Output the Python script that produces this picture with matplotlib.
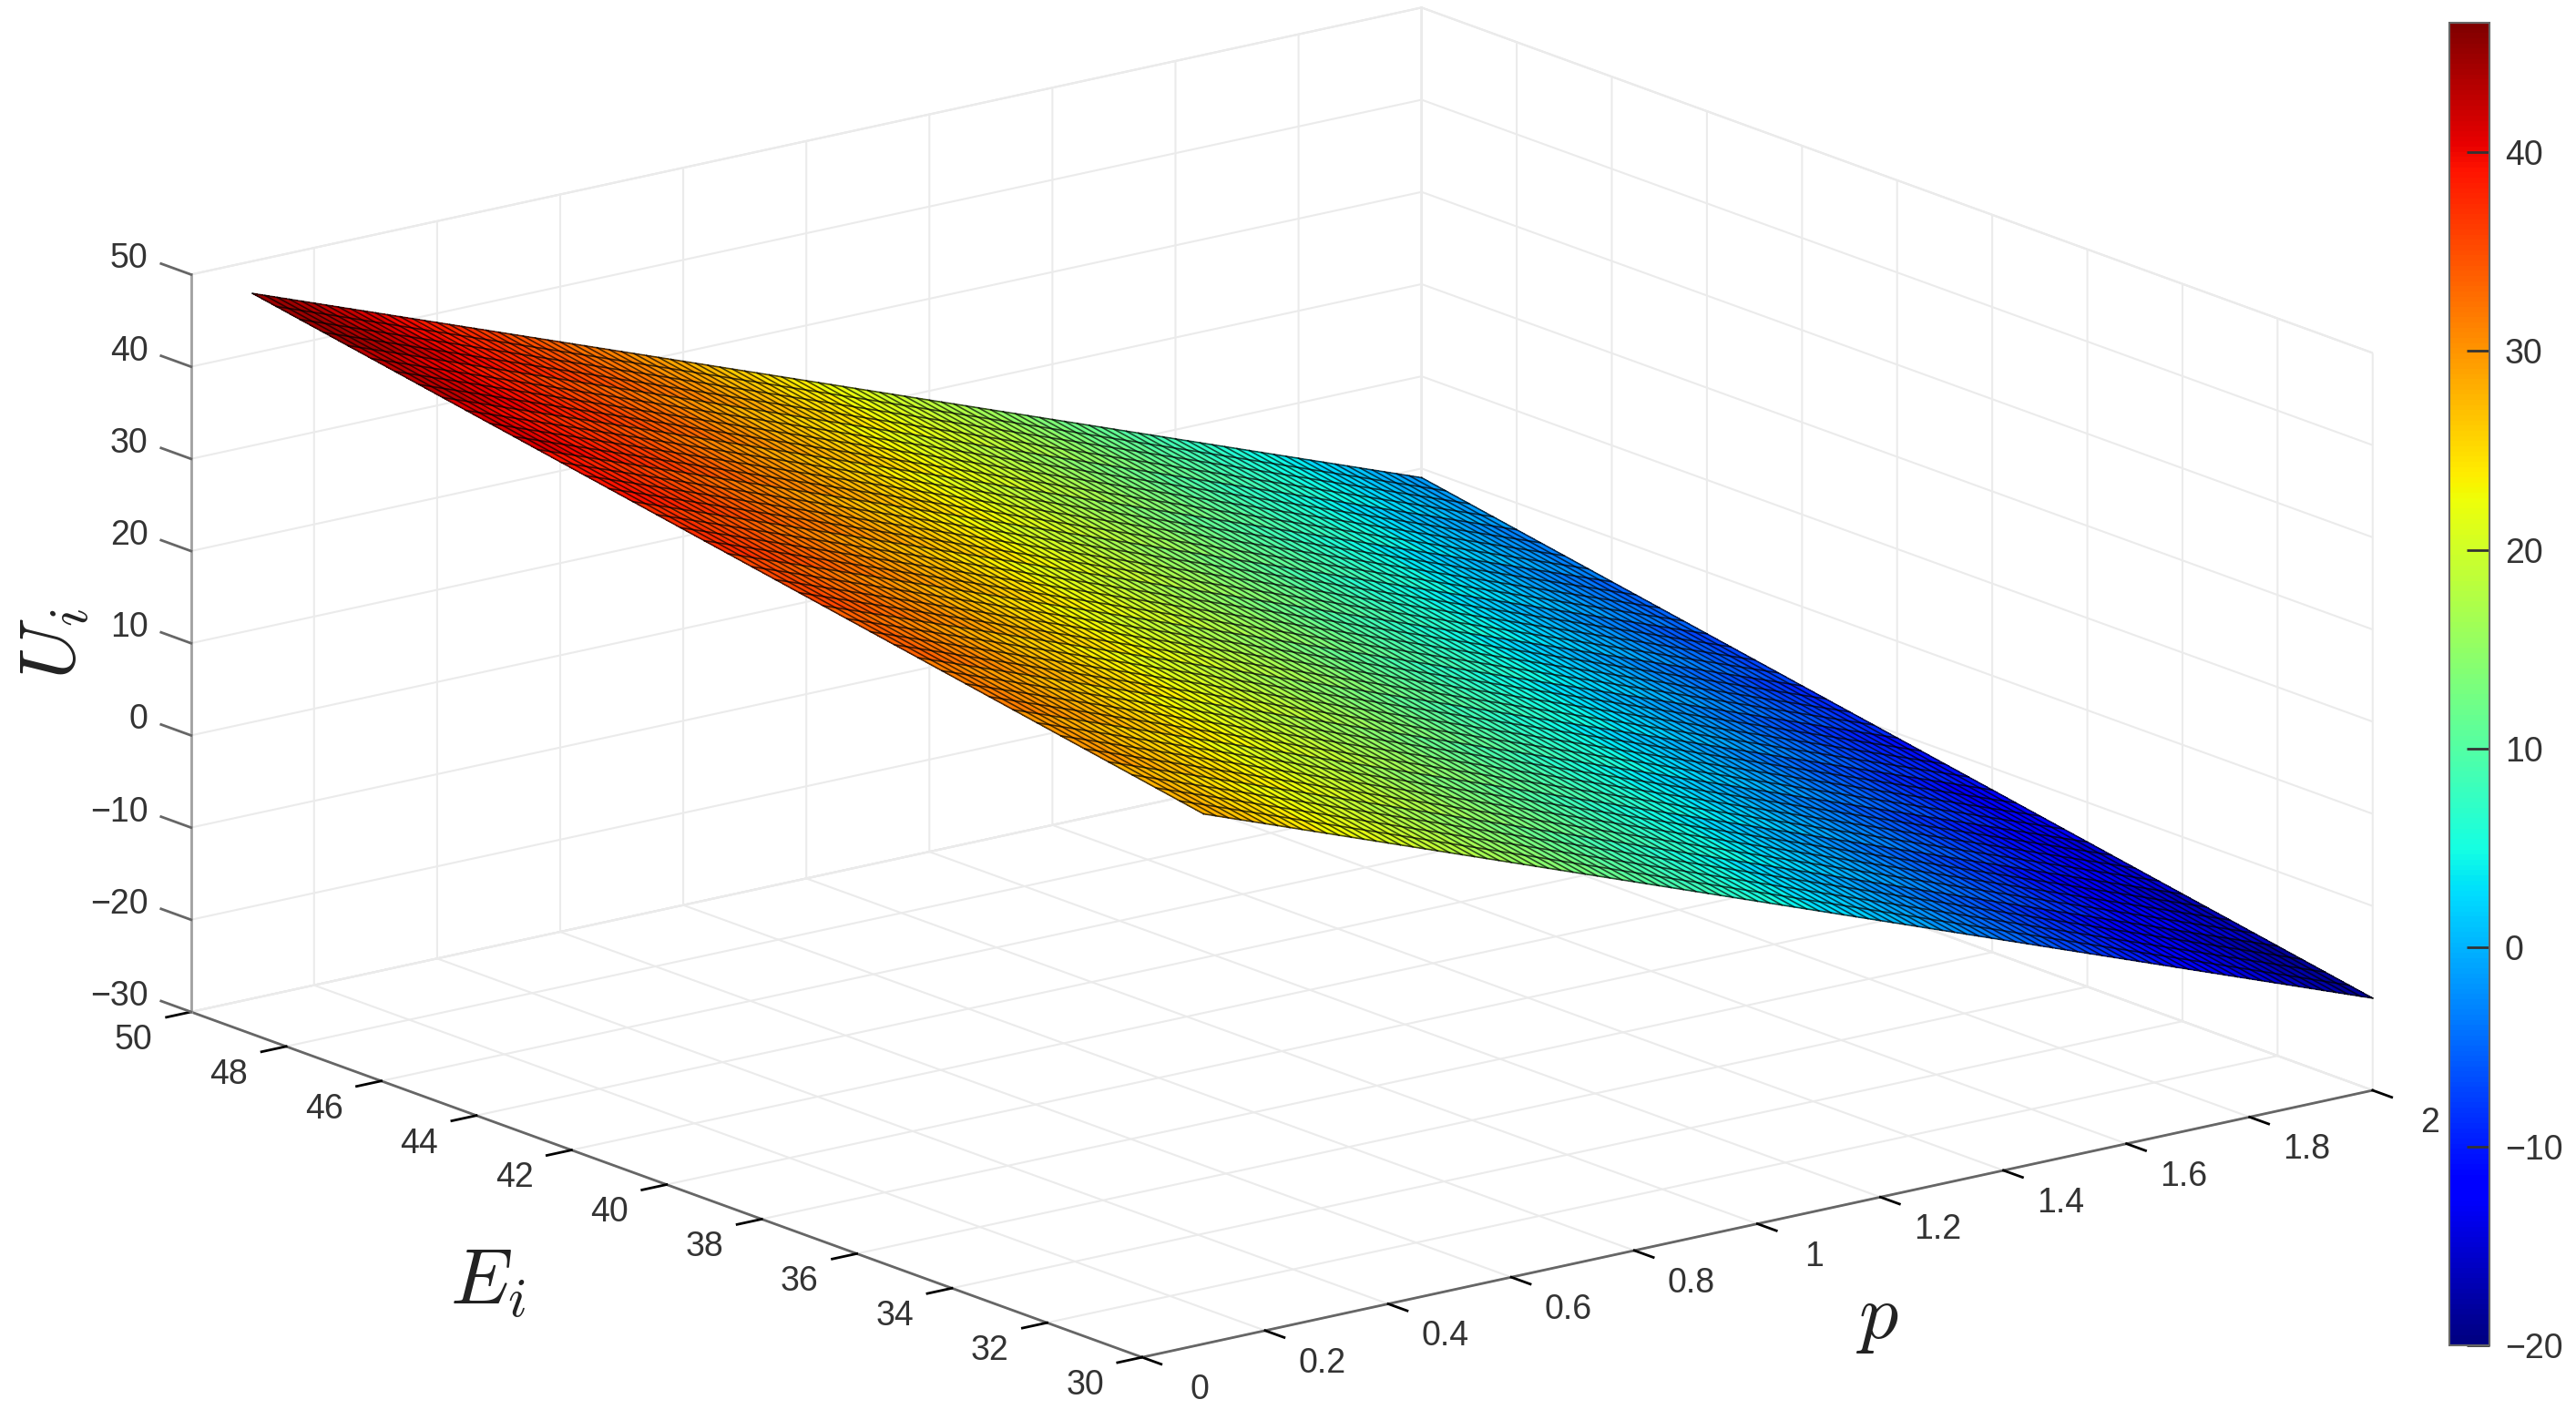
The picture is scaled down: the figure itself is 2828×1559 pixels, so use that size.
import numpy as np
from matplotlib import pyplot as plt
from matplotlib.cm import ScalarMappable
from matplotlib.colors import Normalize
from mpl_toolkits.mplot3d import proj3d

# values (corners and edges of the surface)
# coarse table for the face colours: rows are p_grid, columns are e_grid
p_grid = [0.10, 0.15, 0.20, 0.25, 0.30, 0.35, 0.40, 0.45, 0.50, 0.55, 0.60, 0.65, 0.70,
          0.75, 0.80, 0.85, 0.90, 0.95, 1.00, 1.05, 1.10, 1.15, 1.20, 1.25, 1.30, 1.35,
          1.40, 1.45, 1.50, 1.55, 1.60, 1.65, 1.70, 1.75, 1.80, 1.85, 1.90, 1.95, 2.00]
e_grid = [30, 32, 34, 36, 38, 40, 42, 44, 46, 48, 50]
u_table = [
    [27.5, 29.4, 31.3, 33.2, 35.1, 37.0, 38.9, 40.8, 42.7, 44.6, 46.5],
    [26.25, 28.15, 30.05, 31.95, 33.85, 35.75, 37.65, 39.55, 41.45, 43.35, 45.25],
    [25.0, 26.9, 28.8, 30.7, 32.6, 34.5, 36.4, 38.3, 40.2, 42.1, 44.0],
    [23.75, 25.65, 27.55, 29.45, 31.35, 33.25, 35.15, 37.05, 38.95, 40.85, 42.75],
    [22.5, 24.4, 26.3, 28.2, 30.1, 32.0, 33.9, 35.8, 37.7, 39.6, 41.5],
    [21.25, 23.15, 25.05, 26.95, 28.85, 30.75, 32.65, 34.55, 36.45, 38.35, 40.25],
    [20.0, 21.9, 23.8, 25.7, 27.6, 29.5, 31.4, 33.3, 35.2, 37.1, 39.0],
    [18.75, 20.65, 22.55, 24.45, 26.35, 28.25, 30.15, 32.05, 33.95, 35.85, 37.75],
    [17.5, 19.4, 21.3, 23.2, 25.1, 27.0, 28.9, 30.8, 32.7, 34.6, 36.5],
    [16.25, 18.15, 20.05, 21.95, 23.85, 25.75, 27.65, 29.55, 31.45, 33.35, 35.25],
    [15.0, 16.9, 18.8, 20.7, 22.6, 24.5, 26.4, 28.3, 30.2, 32.1, 34.0],
    [13.75, 15.65, 17.55, 19.45, 21.35, 23.25, 25.15, 27.05, 28.95, 30.85, 32.75],
    [12.5, 14.4, 16.3, 18.2, 20.1, 22.0, 23.9, 25.8, 27.7, 29.6, 31.5],
    [11.25, 13.15, 15.05, 16.95, 18.85, 20.75, 22.65, 24.55, 26.45, 28.35, 30.25],
    [10.0, 11.9, 13.8, 15.7, 17.6, 19.5, 21.4, 23.3, 25.2, 27.1, 29.0],
    [8.75, 10.65, 12.55, 14.45, 16.35, 18.25, 20.15, 22.05, 23.95, 25.85, 27.75],
    [7.5, 9.4, 11.3, 13.2, 15.1, 17.0, 18.9, 20.8, 22.7, 24.6, 26.5],
    [6.25, 8.15, 10.05, 11.95, 13.85, 15.75, 17.65, 19.55, 21.45, 23.35, 25.25],
    [5.0, 6.9, 8.8, 10.7, 12.6, 14.5, 16.4, 18.3, 20.2, 22.1, 24.0],
    [3.75, 5.65, 7.55, 9.45, 11.35, 13.25, 15.15, 17.05, 18.95, 20.85, 22.75],
    [2.5, 4.4, 6.3, 8.2, 10.1, 12.0, 13.9, 15.8, 17.7, 19.6, 21.5],
    [1.25, 3.15, 5.05, 6.95, 8.85, 10.75, 12.65, 14.55, 16.45, 18.35, 20.25],
    [0.0, 1.9, 3.8, 5.7, 7.6, 9.5, 11.4, 13.3, 15.2, 17.1, 19.0],
    [-1.25, 0.65, 2.55, 4.45, 6.35, 8.25, 10.15, 12.05, 13.95, 15.85, 17.75],
    [-2.5, -0.6, 1.3, 3.2, 5.1, 7.0, 8.9, 10.8, 12.7, 14.6, 16.5],
    [-3.75, -1.85, 0.05, 1.95, 3.85, 5.75, 7.65, 9.55, 11.45, 13.35, 15.25],
    [-5.0, -3.1, -1.2, 0.7, 2.6, 4.5, 6.4, 8.3, 10.2, 12.1, 14.0],
    [-6.25, -4.35, -2.45, -0.55, 1.35, 3.25, 5.15, 7.05, 8.95, 10.85, 12.75],
    [-7.5, -5.6, -3.7, -1.8, 0.1, 2.0, 3.9, 5.8, 7.7, 9.6, 11.5],
    [-8.75, -6.85, -4.95, -3.05, -1.15, 0.75, 2.65, 4.55, 6.45, 8.35, 10.25],
    [-10.0, -8.1, -6.2, -4.3, -2.4, -0.5, 1.4, 3.3, 5.2, 7.1, 9.0],
    [-11.25, -9.35, -7.45, -5.55, -3.65, -1.75, 0.15, 2.05, 3.95, 5.85, 7.75],
    [-12.5, -10.6, -8.7, -6.8, -4.9, -3.0, -1.1, 0.8, 2.7, 4.6, 6.5],
    [-13.75, -11.85, -9.95, -8.05, -6.15, -4.25, -2.35, -0.45, 1.45, 3.35, 5.25],
    [-15.0, -13.1, -11.2, -9.3, -7.4, -5.5, -3.6, -1.7, 0.2, 2.1, 4.0],
    [-16.25, -14.35, -12.45, -10.55, -8.65, -6.75, -4.85, -2.95, -1.05, 0.85, 2.75],
    [-17.5, -15.6, -13.7, -11.8, -9.9, -8.0, -6.1, -4.2, -2.3, -0.4, 1.5],
    [-18.75, -16.85, -14.95, -13.05, -11.15, -9.25, -7.35, -5.45, -3.55, -1.65, 0.25],
    [-20.0, -18.1, -16.2, -14.3, -12.4, -10.5, -8.6, -6.7, -4.8, -2.9, -1.0],
]

# mesh lines, each one runs straight between two read end values
p_mesh = [0.10, 0.12, 0.14, 0.16, 0.18, 0.20, 0.22, 0.24, 0.26, 0.28, 0.30, 0.32, 0.34, 0.36, 0.38, 0.40,
          0.42, 0.44, 0.46, 0.48, 0.50, 0.52, 0.54, 0.56, 0.58, 0.60, 0.62, 0.64, 0.66, 0.68, 0.70, 0.72,
          0.74, 0.76, 0.78, 0.80, 0.82, 0.84, 0.86, 0.88, 0.90, 0.92, 0.94, 0.96, 0.98, 1.00, 1.02, 1.04,
          1.06, 1.08, 1.10, 1.12, 1.14, 1.16, 1.18, 1.20, 1.22, 1.24, 1.26, 1.28, 1.30, 1.32, 1.34, 1.36,
          1.38, 1.40, 1.42, 1.44, 1.46, 1.48, 1.50, 1.52, 1.54, 1.56, 1.58, 1.60, 1.62, 1.64, 1.66, 1.68,
          1.70, 1.72, 1.74, 1.76, 1.78, 1.80, 1.82, 1.84, 1.86, 1.88, 1.90, 1.92, 1.94, 1.96, 1.98, 2.00]
u_at_e30 = [27.5, 27, 26.5, 26, 25.5, 25, 24.5, 24, 23.5, 23, 22.5, 22, 21.5, 21, 20.5, 20,
            19.5, 19, 18.5, 18, 17.5, 17, 16.5, 16, 15.5, 15, 14.5, 14, 13.5, 13, 12.5, 12,
            11.5, 11, 10.5, 10, 9.5, 9, 8.5, 8, 7.5, 7, 6.5, 6, 5.5, 5, 4.5, 4,
            3.5, 3, 2.5, 2, 1.5, 1, 0.5, 0, -0.5, -1, -1.5, -2, -2.5, -3, -3.5, -4,
            -4.5, -5, -5.5, -6, -6.5, -7, -7.5, -8, -8.5, -9, -9.5, -10, -10.5, -11, -11.5, -12,
            -12.5, -13, -13.5, -14, -14.5, -15, -15.5, -16, -16.5, -17, -17.5, -18, -18.5, -19, -19.5, -20]
u_at_e50 = [46.5, 46, 45.5, 45, 44.5, 44, 43.5, 43, 42.5, 42, 41.5, 41, 40.5, 40, 39.5, 39,
            38.5, 38, 37.5, 37, 36.5, 36, 35.5, 35, 34.5, 34, 33.5, 33, 32.5, 32, 31.5, 31,
            30.5, 30, 29.5, 29, 28.5, 28, 27.5, 27, 26.5, 26, 25.5, 25, 24.5, 24, 23.5, 23,
            22.5, 22, 21.5, 21, 20.5, 20, 19.5, 19, 18.5, 18, 17.5, 17, 16.5, 16, 15.5, 15,
            14.5, 14, 13.5, 13, 12.5, 12, 11.5, 11, 10.5, 10, 9.5, 9, 8.5, 8, 7.5, 7,
            6.5, 6, 5.5, 5, 4.5, 4, 3.5, 3, 2.5, 2, 1.5, 1, 0.5, 0, -0.5, -1]
e_mesh = [30, 30.5, 31, 31.5, 32, 32.5, 33, 33.5, 34, 34.5, 35, 35.5, 36, 36.5, 37, 37.5, 38, 38.5, 39, 39.5,
          40, 40.5, 41, 41.5, 42, 42.5, 43, 43.5, 44, 44.5, 45, 45.5, 46, 46.5, 47, 47.5, 48, 48.5, 49, 49.5, 50]
u_at_p_low = [27.5, 27.975, 28.45, 28.925, 29.4, 29.875, 30.35, 30.825, 31.3, 31.775, 32.25, 32.725, 33.2, 33.675,
              34.15, 34.625, 35.1, 35.575, 36.05, 36.525, 37.0, 37.475, 37.95, 38.425, 38.9, 39.375, 39.85, 40.325,
              40.8, 41.275, 41.75, 42.225, 42.7, 43.175, 43.65, 44.125, 44.6, 45.075, 45.55, 46.025, 46.5]
u_at_p_high = [-20, -19.525, -19.05, -18.575, -18.1, -17.625, -17.15, -16.675, -16.2, -15.725, -15.25, -14.775, -14.3,
               -13.825, -13.35, -12.875, -12.4, -11.925, -11.45, -10.975, -10.5, -10.025, -9.55, -9.075, -8.6, -8.125,
               -7.65, -7.175, -6.7, -6.225, -5.75, -5.275, -4.8, -4.325, -3.85, -3.375, -2.9, -2.425, -1.95, -1.475, -1.0]

p_ticks = [0, 0.2, 0.4, 0.6, 0.8, 1, 1.2, 1.4, 1.6, 1.8, 2]
p_labels = ['0', '0.2', '0.4', '0.6', '0.8', '1', '1.2', '1.4', '1.6', '1.8', '2']
e_ticks = [30, 32, 34, 36, 38, 40, 42, 44, 46, 48, 50]
e_labels = ['30', '32', '34', '36', '38', '40', '42', '44', '46', '48', '50']
u_ticks = [-30, -20, -10, 0, 10, 20, 30, 40, 50]
u_labels = ['\u221230', '\u221220', '\u221210', '0', '10', '20', '30', '40', '50']
cbar_ticks = [-20, -10, 0, 10, 20, 30, 40]

plt.rcParams['font.family'] = ['Liberation Sans', 'DejaVu Sans']
plt.rcParams['mathtext.fontset'] = 'cm'

fig = plt.figure(figsize=(28.28, 15.59), dpi=100)
ax = fig.add_axes([-0.0159, -0.4121, 1.0, 1.814], projection='3d', computed_zorder=False)
ax.patch.set_visible(False)
ax.set_proj_type('ortho')
ax.view_init(elev=16.3, azim=232.3)
ax.set_box_aspect((1, 1, 0.494), zoom=0.878)

# surface faces
P, E = np.meshgrid(p_grid, e_grid, indexing='ij')
ax.plot_surface(P, E, np.array(u_table), rstride=1, cstride=1, cmap='jet', vmin=-20, vmax=46.5,
                linewidth=0, edgecolor='none', antialiased=False, shade=False, zorder=1)

# mesh on top of the faces
for i in range(len(p_mesh)):
    ax.plot([p_mesh[i], p_mesh[i]], [30, 50], [u_at_e30[i], u_at_e50[i]], color='k', lw=1.2, alpha=0.7, zorder=2)
for j in range(len(e_mesh)):
    ax.plot([0.1, 2], [e_mesh[j], e_mesh[j]], [u_at_p_low[j], u_at_p_high[j]], color='k', lw=1.2, alpha=0.7, zorder=2)

ax.set_xlim(0, 2, view_margin=0)
ax.set_ylim(30, 50, view_margin=0)
ax.set_zlim(-30, 50, view_margin=0)
ax.set_xticks(p_ticks)
ax.set_xticklabels([''] * len(p_ticks))
ax.set_yticks(e_ticks)
ax.set_yticklabels([''] * len(e_ticks))
ax.set_zticks(u_ticks)
ax.set_zticklabels([''] * len(u_ticks))

# axes look
for axis in [ax.xaxis, ax.yaxis, ax.zaxis]:
    axis.set_pane_color((1, 1, 1, 1))
    axis.pane.set_edgecolor('#e2e2e2')
    axis.pane.set_linewidth(1.5)
    axis.line.set_color('#666666')
    axis.line.set_linewidth(2)
    axis._axinfo['grid']['color'] = '#ebebeb'
    axis._axinfo['grid']['linewidth'] = 1.5
    axis._axinfo['tick']['inward_factor'] = 0.25
    axis._axinfo['tick']['outward_factor'] = 0.0
    axis._axinfo['tick']['linewidth'] = {True: 2, False: 1}
    axis._axinfo['tick']['color'] = '#666666'
ax.zaxis.line.set_color('#a0a0a0')

# z ticks point along E here, matplotlib would run them along p
ax.zaxis._axinfo['tick']['linewidth'] = {True: 0, False: 0}
for v in u_ticks:
    ax.plot([0, 0], [50, 50.63], [v, v], color='#666666', lw=2, zorder=0)

# tick labels sit along the tick direction, as in the original
M = ax.get_proj()
def label_at(x, y, z, s, ha):
    x2, y2, _ = proj3d.proj_transform(x, y, z, M)
    ax.text2D(x2, y2, s, transform=ax.transData, fontsize=27, color='#333333', ha=ha, va='center')

for v, s in zip(p_ticks, p_labels):
    label_at(v, 28.8, -31.3, s, 'center')
for v, s in zip(e_ticks, e_labels):
    label_at(-0.093, v, -31.7, s, 'center')
for v, s in zip(u_ticks, u_labels):
    label_at(0, 50.9, v, s, 'right')

# colorbar
cax = fig.add_axes([2689 / 2828, 1 - 1477 / 1559, 44 / 2828, 1452 / 1559])
cb = fig.colorbar(ScalarMappable(norm=Normalize(-20, 46.5), cmap='jet'), cax=cax)
cb.set_ticks(cbar_ticks)
cb.ax.tick_params(labelsize=27, direction='in', length=18, width=2, colors='#333333', pad=12)
cb.outline.set_edgecolor('#666666')
cb.outline.set_linewidth(1.5)

# axis names
fig.text(60 / 2828, 1 - 707 / 1559, '$U_i$', fontsize=62, rotation=90, ha='center', va='center', color='#222222')
fig.text(536 / 2828, 1 - 1409 / 1559, '$E_i$', fontsize=62, ha='center', va='center', color='#222222')
fig.text(2062 / 2828, 1 - 1448 / 1559, '$p$', fontsize=62, ha='center', va='center', color='#222222')

fig.savefig('out.png', dpi=100)
